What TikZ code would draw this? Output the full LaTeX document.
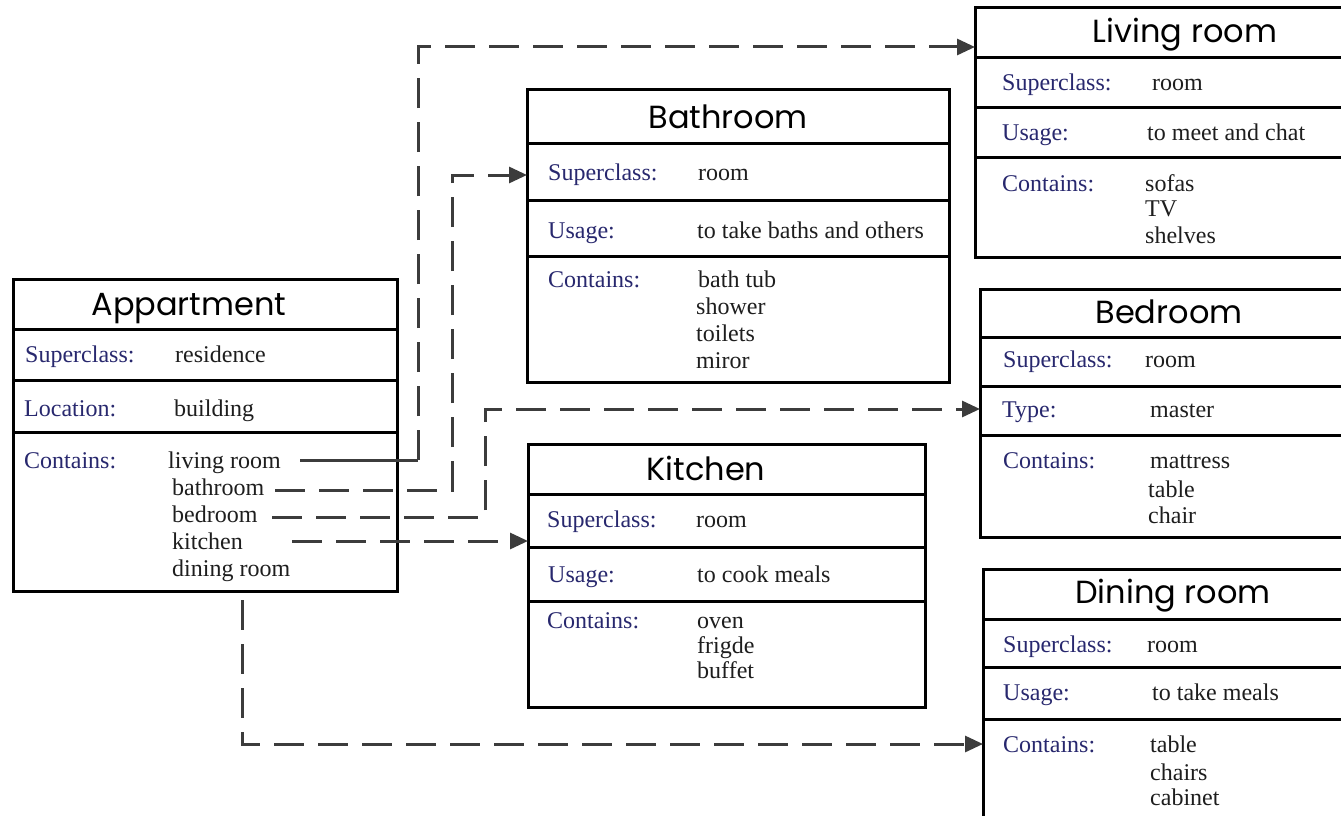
\documentclass[tikz,border=0pt]{standalone}
\usepackage{fontspec}
\setmainfont{Liberation Serif}
\newfontfamily\titlefont{Poppins}
\usetikzlibrary{arrows.meta,calc}
\definecolor{keyblue}{RGB}{40,40,110}
\definecolor{conngray}{RGB}{60,60,60}
\definecolor{valtext}{RGB}{30,30,30}
\tikzset{
  box/.style={draw=black, line width=3pt, rectangle, inner sep=0pt, outer sep=0pt, anchor=north west},
  divider/.style={line width=3pt, draw=black},
  ttl/.style={font=\titlefont\fontsize{32}{36}\selectfont, anchor=base, inner sep=0pt},
  key/.style={font=\fontsize{24}{27}\selectfont, text=keyblue, anchor=base west, inner sep=0pt},
  val/.style={font=\fontsize{24}{27}\selectfont, text=valtext, anchor=base west, inner sep=0pt},
  conn/.style={draw=conngray, line width=3pt, dash pattern=on 30pt off 14pt},
  connsolid/.style={draw=conngray, line width=3pt},
  tip/.style={-{Triangle[length=18pt,width=16pt]}},
}
\begin{document}
\begin{tikzpicture}[x=1pt,y=-1pt]
\useasboundingbox (0,0) rectangle (1341,816);
\clip (0,0) rectangle (1341,816);
\fill[white] (0,0) rectangle (1341,816);

% ---------- Appartment ----------
\node[box, minimum width=384pt, minimum height=312pt] (apt) at (13,279) {};
\draw[divider] (13,329) -- (397,329);
\draw[divider] (13,380) -- (397,380);
\draw[divider] (13,432) -- (397,432);
\node[ttl] (apt-t) at (189,315) {Appartment};
\node[key] (apt-k1) at (25,362) {Superclass:};
\node[val] (apt-v1) at (175,362) {residence};
\node[key] (apt-k2) at (24,416) {Location:};
\node[val] (apt-v2) at (174,416) {building};
\node[key] (apt-k3) at (24,468) {Contains:};
\node[val] (apt-i1) at (168,468) {living room};
\node[val] (apt-i2) at (172,495) {bathroom};
\node[val] (apt-i3) at (172,522) {bedroom};
\node[val] (apt-i4) at (172,549) {kitchen};
\node[val] (apt-i5) at (172,576) {dining room};

% ---------- Bathroom ----------
\node[box, minimum width=422pt, minimum height=293pt] (ba) at (527,89) {};
\draw[divider] (527,143) -- (949,143);
\draw[divider] (527,200) -- (949,200);
\draw[divider] (527,256) -- (949,256);
\node[ttl] (ba-t) at (728,128) {Bathroom};
\node[key] (ba-k1) at (548,180) {Superclass:};
\node[val] (ba-v1) at (698,180) {room};
\node[key] (ba-k2) at (548,238) {Usage:};
\node[val] (ba-v2) at (697,238) {to take baths and others};
\node[key] (ba-k3) at (548,287) {Contains:};
\node[val] (ba-i1) at (698,287) {bath tub};
\node[val] (ba-i2) at (696,314) {shower};
\node[val] (ba-i3) at (696,341) {toilets};
\node[val] (ba-i4) at (696,368) {miror};

% ---------- Kitchen ----------
\node[box, minimum width=397pt, minimum height=263pt] (ki) at (528,444) {};
\draw[divider] (528,494) -- (925,494);
\draw[divider] (528,547) -- (925,547);
\draw[divider] (528,601) -- (925,601);
\node[ttl] (ki-t) at (706,480) {Kitchen};
\node[key] (ki-k1) at (547,527) {Superclass:};
\node[val] (ki-v1) at (696,527) {room};
\node[key] (ki-k2) at (548,582) {Usage:};
\node[val] (ki-v2) at (697,582) {to cook meals};
\node[key] (ki-k3) at (547,628) {Contains:};
\node[val] (ki-i1) at (697,628) {oven};
\node[val] (ki-i2) at (697,653) {frigde};
\node[val] (ki-i3) at (697,678) {buffet};

% ---------- Living room ----------
\node[box, minimum width=372pt, minimum height=249pt] (lr) at (975,8) {};
\draw[divider] (975,58) -- (1347,58);
\draw[divider] (975,107) -- (1347,107);
\draw[divider] (975,157) -- (1347,157);
\node[ttl] (lr-t) at (1185,43) {Living room};
\node[key] (lr-k1) at (1002,90) {Superclass:};
\node[val] (lr-v1) at (1152,90) {room};
\node[key] (lr-k2) at (1002,140) {Usage:};
\node[val] (lr-v2) at (1147,140) {to meet and chat};
\node[key] (lr-k3) at (1002,191) {Contains:};
\node[val] (lr-i1) at (1145,191) {sofas};
\node[val] (lr-i2) at (1145,216) {TV};
\node[val] (lr-i3) at (1145,243) {shelves};

% ---------- Bedroom ----------
\node[box, minimum width=367pt, minimum height=248pt] (be) at (980,289) {};
\draw[divider] (980,337) -- (1347,337);
\draw[divider] (980,386) -- (1347,386);
\draw[divider] (980,435) -- (1347,435);
\node[ttl] (be-t) at (1169,323) {Bedroom};
\node[key] (be-k1) at (1003,367) {Superclass:};
\node[val] (be-v1) at (1145,367) {room};
\node[key] (be-k2) at (1002,417) {Type:};
\node[val] (be-v2) at (1150,417) {master};
\node[key] (be-k3) at (1003,468) {Contains:};
\node[val] (be-i1) at (1150,468) {mattress};
\node[val] (be-i2) at (1148,497) {table};
\node[val] (be-i3) at (1148,523) {chair};

% ---------- Dining room ----------
\node[box, minimum width=364pt, minimum height=270pt] (di) at (983,569) {};
\draw[divider] (983,619) -- (1347,619);
\draw[divider] (983,667) -- (1347,667);
\draw[divider] (983,719) -- (1347,719);
\node[ttl] (di-t) at (1173,603) {Dining room};
\node[key] (di-k1) at (1003,652) {Superclass:};
\node[val] (di-v1) at (1147,652) {room};
\node[key] (di-k2) at (1003,700) {Usage:};
\node[val] (di-v2) at (1152,700) {to take meals};
\node[key] (di-k3) at (1003,752) {Contains:};
\node[val] (di-i1) at (1150,752) {table};
\node[val] (di-i2) at (1150,780) {chairs};
\node[val] (di-i3) at (1150,805) {cabinet};

% ---------- Connectors ----------
\coordinate (s-lr) at (300,460);
\coordinate (k-lr) at (418,460);
\coordinate (s-ba) at (275,490);
\coordinate (k-ba) at (452,490);
\coordinate (s-be) at (272,517);
\coordinate (k-be) at (485,517);
\coordinate (s-ki) at (292,541);
\coordinate (s-di) at (242,600);

\draw[connsolid] (s-lr) -- (k-lr);
\draw[conn, tip] (k-lr) |- ($(lr.north west)+(0,39)$);
\draw[conn, tip] (s-ba) -- (k-ba) |- ($(ba.north west)+(0,86)$);
\draw[conn, tip] (s-be) -- (k-be) |- ($(be.north west)+(0,120)$);
\draw[conn, tip] (s-ki) -- ($(ki.north west)+(0,97)$);
\draw[conn, tip] (s-di) |- ($(di.north west)+(0,175)$);
\end{tikzpicture}
\end{document}
